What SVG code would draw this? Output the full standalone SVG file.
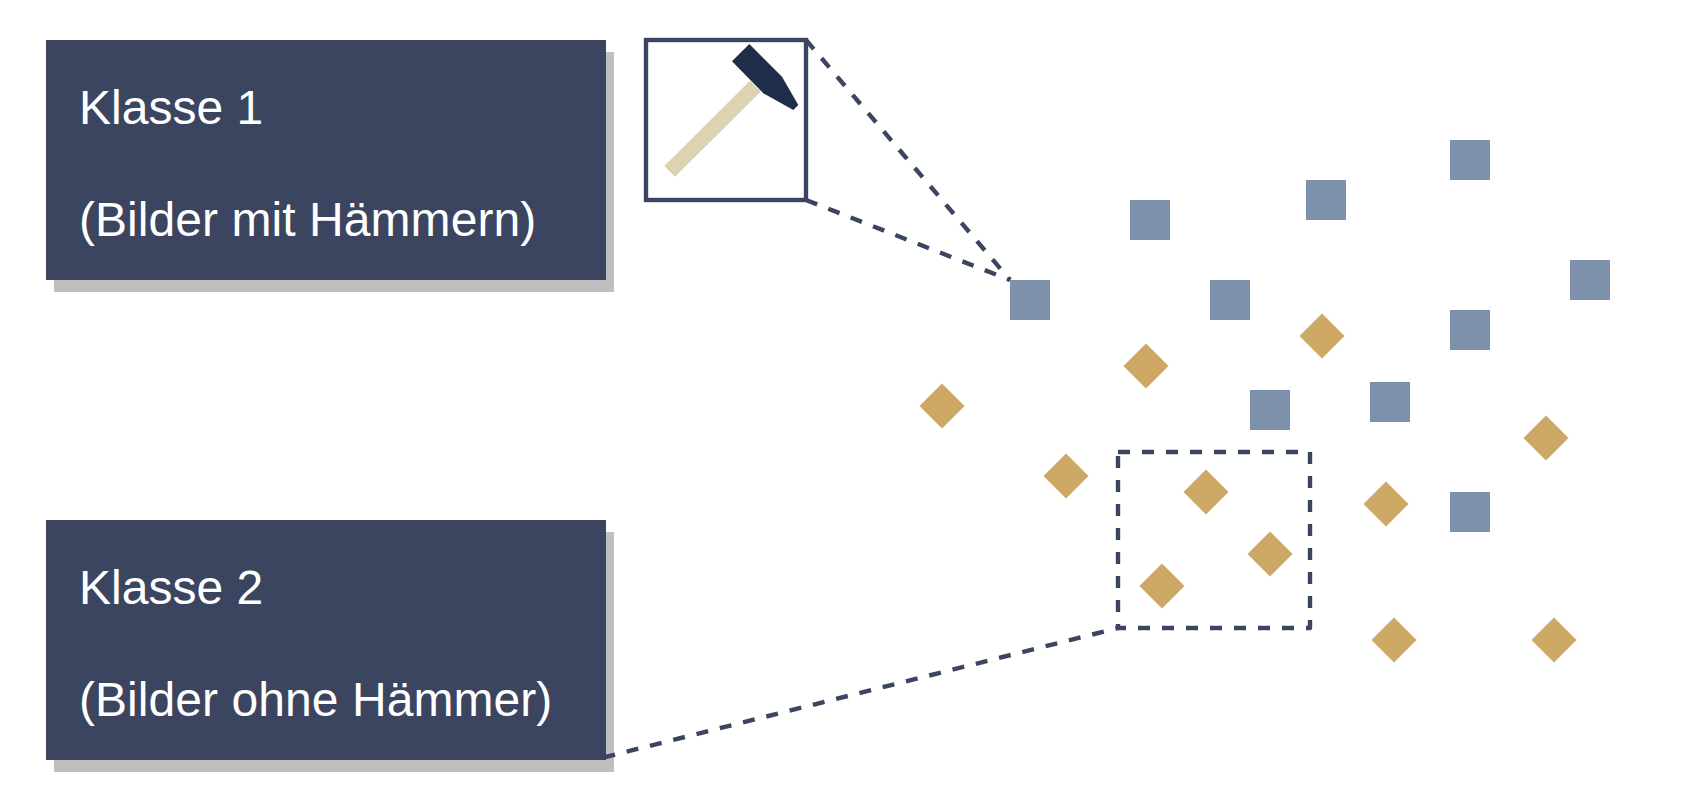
<svg xmlns="http://www.w3.org/2000/svg" width="1692" height="808" viewBox="0 0 1692 808">
<style>
.box{fill:#3b4560}
.shadow{fill:#bfbfbf}
.label{font-family:"Liberation Sans",Arial,sans-serif;font-size:48px;fill:#fff}
.long{letter-spacing:.06px}
.sq{fill:#7d91ac}
.di{fill:#cca864}
.dash{fill:none;stroke:#3b4560;stroke-width:4.4;stroke-linejoin:round;stroke-dasharray:12 12}
</style>
<defs>
<rect id="s" width="40" height="40" class="sq"/>
<polygon id="d" points="0,-22.5 22.5,0 0,22.5 -22.5,0" class="di"/>
</defs>
<rect width="1692" height="808" fill="#fff"/>
<g id="klasse1">
<rect class="shadow" x="54" y="52" width="560" height="240"/>
<rect class="box" x="46" y="40" width="560" height="240"/>
<text class="label" x="79" y="124">Klasse 1</text>
<text class="label long" x="79" y="236">(Bilder mit Hämmern)</text>
</g>
<g id="klasse2">
<rect class="shadow" x="54" y="532" width="560" height="240"/>
<rect class="box" x="46" y="520" width="560" height="240"/>
<text class="label" x="79" y="604">Klasse 2</text>
<text class="label long" x="79" y="716">(Bilder ohne Hämmer)</text>
</g>
<g id="connectors">
<line class="dash" x1="806" y1="40" x2="1010" y2="280"/>
<line class="dash" x1="806" y1="200" x2="1010" y2="280"/>
<line class="dash" x1="603.4" y1="757.5" x2="1118" y2="628"/>
</g>
<g id="hammer">
<rect x="646" y="40" width="160" height="160" fill="#fff" stroke="#3b4560" stroke-width="4.4"/>
<polygon points="750,80.7 760.7,91.7 675,176.7 664.3,166" fill="#dbd3b1"/>
<polygon points="749.3,44 732,61.3 763.3,93.3 793.3,110 798.3,105 782,76.7" fill="#1f2e48"/>
</g>
<g id="squares">
<use href="#s" x="1450" y="140"/>
<use href="#s" x="1130" y="200"/>
<use href="#s" x="1306" y="180"/>
<use href="#s" x="1570" y="260"/>
<use href="#s" x="1010" y="280"/>
<use href="#s" x="1210" y="280"/>
<use href="#s" x="1450" y="310"/>
<use href="#s" x="1370" y="382"/>
<use href="#s" x="1250" y="390"/>
<use href="#s" x="1450" y="492"/>
</g>
<g id="diamonds">
<use href="#d" x="942" y="406"/>
<use href="#d" x="1146" y="366"/>
<use href="#d" x="1322" y="336"/>
<use href="#d" x="1066" y="476"/>
<use href="#d" x="1206" y="492"/>
<use href="#d" x="1270" y="554"/>
<use href="#d" x="1162" y="586"/>
<use href="#d" x="1386" y="504"/>
<use href="#d" x="1546" y="438"/>
<use href="#d" x="1394" y="640"/>
<use href="#d" x="1554" y="640"/>
</g>
<g id="selection">
<rect class="dash" x="1118" y="452" width="192" height="176"/>
</g>
</svg>
